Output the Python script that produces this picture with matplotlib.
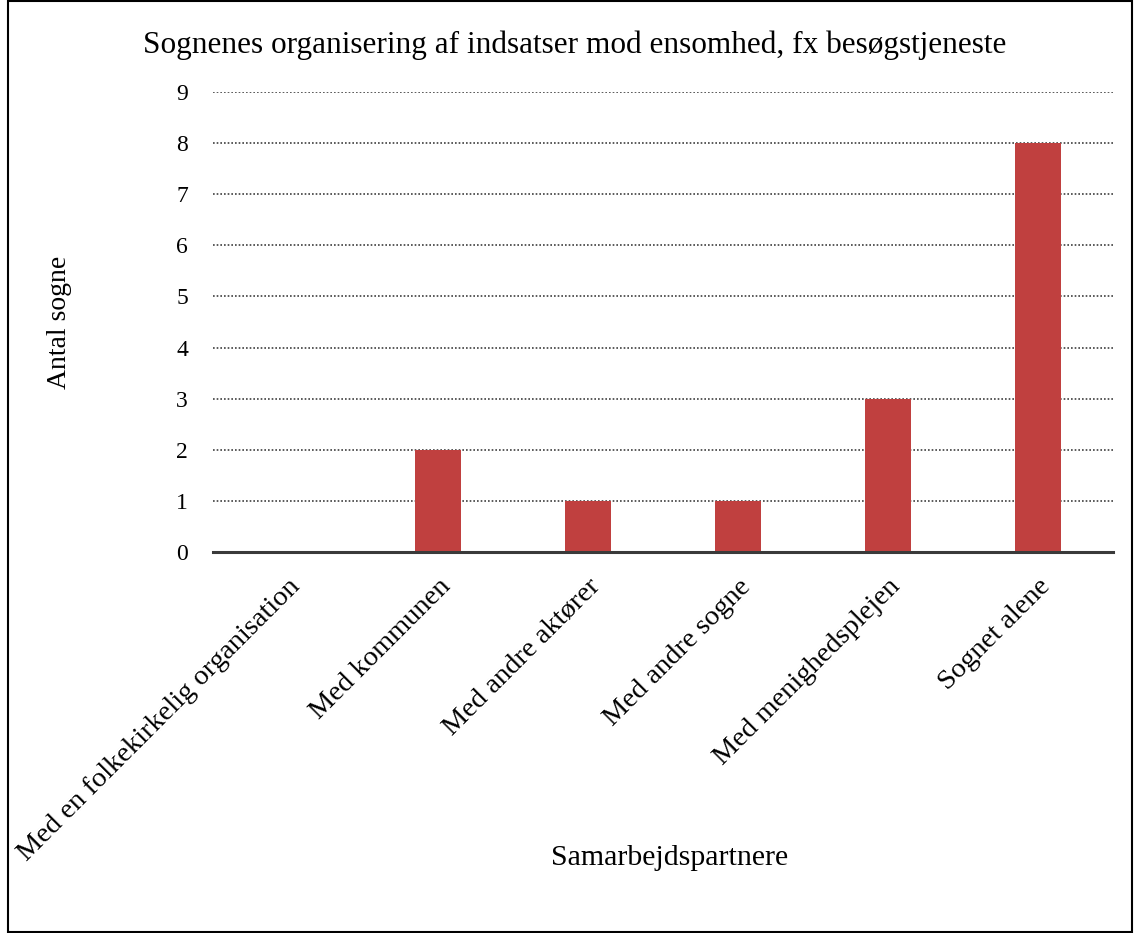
import numpy as np
import matplotlib.pyplot as plt

kategorier = ['Med en folkekirkelig organisation', 'Med kommunen', 'Med andre aktører',
              'Med andre sogne', 'Med menighedsplejen', 'Sognet alene']
antal = [0, 2, 1, 1, 3, 8]
yticks = list(range(0, 10))

plt.rcParams['font.family'] = ['Liberation Serif', 'DejaVu Serif']

fig = plt.figure(figsize=(11.34, 9.33), dpi=100)
ax = fig.add_axes([213/1134, 1-552/933, 900/1134, 460/933])

x = np.arange(len(kategorier))
ax.bar(x, antal, width=0.31, color='#C0403F', zorder=3)

ax.set_xlim(-0.5, len(kategorier)-0.5)
ax.set_ylim(0, 9)
ax.set_yticks(yticks)
ax.set_yticklabels([str(v) for v in yticks], fontsize=17)
ax.set_xticks(x)
ax.set_xticklabels(kategorier, rotation=45, ha='right', rotation_mode='anchor', fontsize=20.5)
ax.tick_params(axis='y', length=0, pad=18)
ax.tick_params(axis='x', length=0, pad=16)

ax.yaxis.grid(True, linestyle=(0, (1, 1.2)), color='#404040', linewidth=1.2, zorder=0)
for s in ['top', 'right', 'left']:
    ax.spines[s].set_visible(False)
ax.spines['bottom'].set_color('#3a3a3a')
ax.spines['bottom'].set_linewidth(2.2)
ax.spines['bottom'].set_zorder(4)

fig.text(575/1134, 1-45/933, 'Sognenes organisering af indsatser mod ensomhed, fx besøgstjeneste',
         ha='center', va='center', fontsize=22.5)
fig.text(60/1134, 1-322/933, 'Antal sogne', rotation=90, ha='center', va='center', fontsize=20)
fig.text(670/1134, 1-858/933, 'Samarbejdspartnere', ha='center', va='center', fontsize=21.5)

fig.add_artist(plt.Rectangle((8/1134, 0.001), 1-10/1134, 0.998, transform=fig.transFigure,
                             fill=False, edgecolor='black', linewidth=1.5))

fig.savefig('out.png', dpi=100)
